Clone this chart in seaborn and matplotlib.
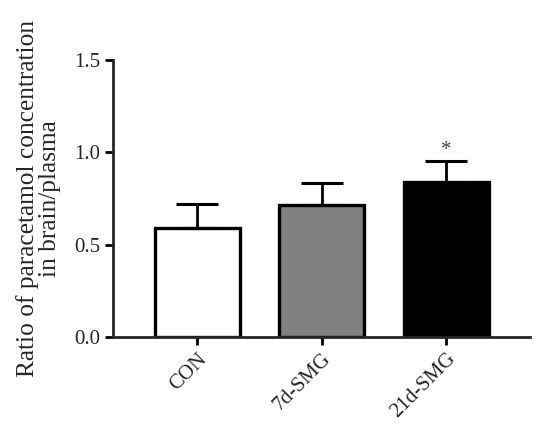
import numpy as np
import pandas as pd
import matplotlib
matplotlib.use("Agg")
import matplotlib.pyplot as plt
import seaborn as sns

groups = ["CON", "7d-SMG", "21d-SMG"]
means = [0.59, 0.715, 0.838]
sems = [0.13, 0.12, 0.117]
colors = ["#ffffff", "#808080", "#000000"]

sns.set_style("ticks")
plt.rcParams['font.family'] = ['Liberation Serif', 'DejaVu Serif']

df = pd.DataFrame({"group": groups, "ratio": means})

fig = plt.figure(figsize=(5.5, 4.33), dpi=100)
ax = fig.add_axes([0.2055, 0.2217, 0.758, 0.6397])

sns.barplot(data=df, x="group", y="ratio", hue="group", palette=colors,
            edgecolor="black", linewidth=2.4, width=0.68, legend=False, ax=ax,
            errorbar=None)
ax.errorbar(np.arange(len(groups)), means, yerr=[np.zeros(3), sems], fmt="none",
            ecolor="black", elinewidth=2.0, capsize=15, capthick=2.2, zorder=1)
# significance mark over 21d-SMG
ax.text(2, means[2] + sems[2] + 0.002, "*", ha="center", va="bottom",
        fontsize=15, color="#444444")

ax.set_ylim(0, 1.5)
ax.set_xlim(-0.675, 2.67)
ax.set_yticks([0, 0.5, 1.0, 1.5])
ax.set_yticklabels(["0.0", "0.5", "1.0", "1.5"])
ax.set_xlabel("")
ax.set_ylabel("Ratio of paracetamol concentration\nin brain/plasma", fontsize=18.3,
              labelpad=10, linespacing=1.0)
ax.tick_params(axis="both", width=2, length=6, pad=3, labelsize=15, color="black")
plt.setp(ax.get_xticklabels(), rotation=45, ha="right", rotation_mode="anchor")
for sp in ["left", "bottom"]:
    ax.spines[sp].set_linewidth(2)
sns.despine(ax=ax)

fig.savefig("out.png", dpi=100)
